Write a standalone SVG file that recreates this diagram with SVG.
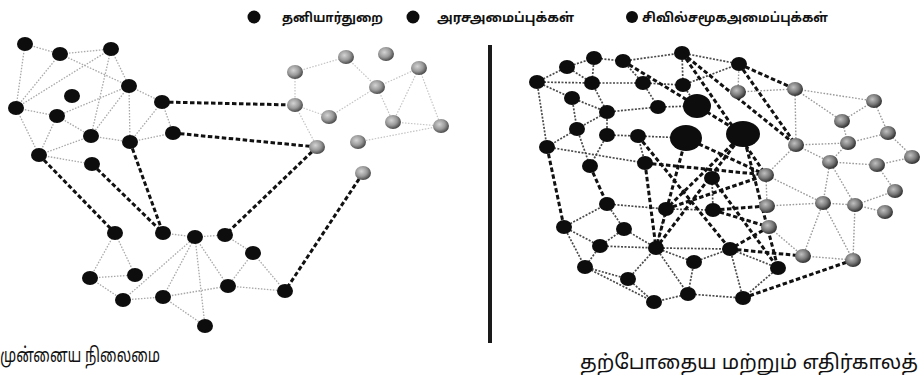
<svg xmlns="http://www.w3.org/2000/svg" width="921" height="375" viewBox="0 0 921 375">
<style>
.bk{fill:#0d0d0d}
.gy{fill:url(#ggy)}
.gl{fill:url(#ggl)}
.th{stroke:#a8a8a8;stroke-width:1.3;stroke-dasharray:1.5 1.5;fill:none}
.tg{stroke:#c4c4c4;stroke-width:1.2;stroke-dasharray:1.5 1.5;fill:none}
.td{stroke:#4a4a4a;stroke-width:1.7;stroke-dasharray:2 1.5;fill:none}
.tr{stroke:#9a9a9a;stroke-width:1.4;stroke-dasharray:1.6 1.6;fill:none}
.dk{stroke:#111;stroke-width:3;stroke-dasharray:4.5 2.5;fill:none}
.lg{font-family:"Noto Sans Tamil","Lohit Tamil","Noto Sans",sans-serif;font-size:13px;font-weight:bold;fill:#111}
.cap{font-family:"Noto Sans Tamil","Lohit Tamil","Noto Sans",sans-serif;fill:#111}
</style>
<defs>
<radialGradient id="ggy" cx="40%" cy="38%" r="65%">
<stop offset="0" stop-color="#c0c0c0"/><stop offset="0.55" stop-color="#7a7a7a"/><stop offset="1" stop-color="#2a2a2a"/>
</radialGradient>
<radialGradient id="ggl" cx="40%" cy="38%" r="65%">
<stop offset="0" stop-color="#d4d4d4"/><stop offset="0.55" stop-color="#999"/><stop offset="1" stop-color="#444"/>
</radialGradient>
</defs>
<rect width="921" height="375" fill="#fff"/>

<g id="legend">
<circle cx="254" cy="17" r="6.5" class="bk"/>
<text x="282" y="22" class="lg" textLength="101" lengthAdjust="spacingAndGlyphs">தனியார்துறை</text>
<circle cx="413" cy="17" r="6.5" class="bk"/>
<text x="437" y="22" class="lg" textLength="137" lengthAdjust="spacingAndGlyphs">அரசஅமைப்புக்கள்</text>
<circle cx="632" cy="17" r="6" class="bk"/>
<text x="642" y="22" class="lg" textLength="186" lengthAdjust="spacingAndGlyphs">சிவில்சமூகஅமைப்புக்கள்</text>
</g>

<g id="divider"><rect x="488" y="45" width="4" height="298" fill="#1a1a1a"/></g>

<g id="connectors">
<!-- left cluster thin -->
<line class="th" x1="25" y1="44" x2="60" y2="54"/>
<line class="th" x1="25" y1="44" x2="16" y2="108"/>
<line class="th" x1="60" y1="54" x2="111" y2="49"/>
<line class="th" x1="60" y1="54" x2="16" y2="108"/>
<line class="th" x1="60" y1="54" x2="129" y2="86"/>
<line class="th" x1="111" y1="49" x2="129" y2="86"/>
<line class="th" x1="111" y1="49" x2="16" y2="108"/>
<line class="th" x1="111" y1="49" x2="91" y2="136"/>
<line class="th" x1="129" y1="86" x2="130" y2="142"/>
<line class="th" x1="129" y1="86" x2="162" y2="102"/>
<line class="th" x1="129" y1="86" x2="57" y2="116"/>
<line class="th" x1="129" y1="86" x2="91" y2="136"/>
<line class="th" x1="162" y1="102" x2="130" y2="142"/>
<line class="th" x1="162" y1="102" x2="173" y2="133"/>
<line class="th" x1="130" y1="142" x2="173" y2="133"/>
<line class="th" x1="91" y1="136" x2="130" y2="142"/>
<line class="th" x1="57" y1="116" x2="91" y2="136"/>
<line class="th" x1="16" y1="108" x2="57" y2="116"/>
<line class="th" x1="16" y1="108" x2="39" y2="155"/>
<line class="th" x1="57" y1="116" x2="39" y2="155"/>
<line class="th" x1="39" y1="155" x2="91" y2="136"/>
<line class="th" x1="39" y1="155" x2="92" y2="164"/>
<!-- bottom cluster thin -->
<line class="th" x1="115" y1="233" x2="90" y2="278"/>
<line class="th" x1="115" y1="233" x2="135" y2="275"/>
<line class="th" x1="90" y1="278" x2="135" y2="275"/>
<line class="th" x1="90" y1="278" x2="123" y2="300"/>
<line class="th" x1="123" y1="300" x2="163" y2="297"/>
<line class="th" x1="123" y1="300" x2="195" y2="237"/>
<line class="th" x1="163" y1="297" x2="195" y2="237"/>
<line class="th" x1="163" y1="297" x2="205" y2="326"/>
<line class="th" x1="195" y1="237" x2="205" y2="326"/>
<line class="th" x1="163" y1="297" x2="228" y2="286"/>
<line class="th" x1="195" y1="237" x2="225" y2="235"/>
<line class="th" x1="225" y1="235" x2="253" y2="253"/>
<line class="th" x1="253" y1="253" x2="228" y2="286"/>
<line class="th" x1="253" y1="253" x2="285" y2="291"/>
<line class="th" x1="228" y1="286" x2="285" y2="291"/>
<line class="th" x1="163" y1="233" x2="195" y2="237"/>
<line class="th" x1="195" y1="237" x2="228" y2="286"/>
<!-- left gray cluster thin -->
<line class="tg" x1="295" y1="72" x2="346" y2="57"/>
<line class="tg" x1="295" y1="72" x2="295" y2="105"/>
<line class="tg" x1="346" y1="57" x2="377" y2="87"/>
<line class="tg" x1="377" y1="87" x2="419" y2="68"/>
<line class="tg" x1="377" y1="87" x2="393" y2="122"/>
<line class="tg" x1="419" y1="68" x2="441" y2="126"/>
<line class="tg" x1="419" y1="68" x2="393" y2="122"/>
<line class="tg" x1="393" y1="122" x2="441" y2="126"/>
<line class="tg" x1="329" y1="117" x2="377" y2="87"/>
<line class="tg" x1="295" y1="105" x2="329" y2="117"/>
<line class="tg" x1="295" y1="105" x2="317" y2="147"/>
<line class="tg" x1="441" y1="126" x2="358" y2="142"/>
<!-- left thick dashed -->
<line class="dk" x1="162" y1="102" x2="295" y2="105"/>
<line class="dk" x1="173" y1="133" x2="317" y2="147"/>
<line class="dk" x1="39" y1="155" x2="115" y2="233"/>
<line class="dk" x1="92" y1="164" x2="163" y2="233"/>
<line class="dk" x1="130" y1="142" x2="163" y2="233"/>
<line class="dk" x1="317" y1="147" x2="225" y2="235"/>
<line class="dk" x1="363" y1="173" x2="285" y2="291"/>

<!-- right black thin -->
<line class="td" x1="537" y1="82" x2="567" y2="67"/>
<line class="td" x1="567" y1="67" x2="594" y2="58"/>
<line class="td" x1="594" y1="58" x2="623" y2="61"/>
<line class="td" x1="623" y1="61" x2="682" y2="53"/>
<line class="td" x1="537" y1="82" x2="592" y2="83"/>
<line class="td" x1="592" y1="83" x2="643" y2="83"/>
<line class="td" x1="643" y1="83" x2="683" y2="85"/>
<line class="td" x1="537" y1="82" x2="572" y2="98"/>
<line class="td" x1="537" y1="82" x2="547" y2="147"/>
<line class="td" x1="567" y1="67" x2="592" y2="83"/>
<line class="td" x1="594" y1="58" x2="592" y2="83"/>
<line class="td" x1="623" y1="61" x2="643" y2="83"/>
<line class="td" x1="592" y1="83" x2="607" y2="112"/>
<line class="td" x1="572" y1="98" x2="607" y2="112"/>
<line class="td" x1="607" y1="112" x2="658" y2="107"/>
<line class="td" x1="658" y1="107" x2="697" y2="106"/>
<line class="td" x1="607" y1="112" x2="577" y2="129"/>
<line class="td" x1="607" y1="112" x2="607" y2="135"/>
<line class="td" x1="572" y1="98" x2="577" y2="129"/>
<line class="td" x1="577" y1="129" x2="547" y2="147"/>
<line class="td" x1="577" y1="129" x2="590" y2="166"/>
<line class="td" x1="607" y1="135" x2="638" y2="136"/>
<line class="td" x1="638" y1="136" x2="686" y2="138"/>
<line class="td" x1="547" y1="147" x2="645" y2="163"/>
<line class="td" x1="607" y1="135" x2="590" y2="166"/>
<line class="td" x1="645" y1="163" x2="638" y2="136"/>
<line class="td" x1="643" y1="83" x2="658" y2="107"/>
<line class="td" x1="683" y1="85" x2="697" y2="106"/>
<line class="td" x1="682" y1="53" x2="683" y2="85"/>
<line class="td" x1="683" y1="85" x2="739" y2="64"/>
<line class="td" x1="682" y1="53" x2="739" y2="64"/>
<line class="td" x1="564" y1="227" x2="607" y2="204"/>
<line class="td" x1="564" y1="227" x2="600" y2="246"/>
<line class="td" x1="564" y1="227" x2="585" y2="267"/>
<line class="td" x1="607" y1="204" x2="624" y2="229"/>
<line class="td" x1="607" y1="204" x2="666" y2="209"/>
<line class="td" x1="624" y1="229" x2="656" y2="248"/>
<line class="td" x1="624" y1="229" x2="600" y2="246"/>
<line class="td" x1="600" y1="246" x2="656" y2="248"/>
<line class="td" x1="600" y1="246" x2="585" y2="267"/>
<line class="td" x1="585" y1="267" x2="628" y2="279"/>
<line class="td" x1="628" y1="279" x2="656" y2="248"/>
<line class="td" x1="628" y1="279" x2="654" y2="302"/>
<line class="td" x1="656" y1="248" x2="694" y2="262"/>
<line class="td" x1="656" y1="248" x2="688" y2="294"/>
<line class="td" x1="656" y1="248" x2="666" y2="209"/>
<line class="td" x1="694" y1="262" x2="688" y2="294"/>
<line class="td" x1="688" y1="294" x2="654" y2="302"/>
<line class="td" x1="688" y1="294" x2="743" y2="298"/>
<line class="td" x1="694" y1="262" x2="730" y2="249"/>
<line class="td" x1="666" y1="209" x2="713" y2="210"/>
<line class="td" x1="713" y1="210" x2="712" y2="178"/>
<line class="td" x1="730" y1="249" x2="778" y2="268"/>
<line class="td" x1="778" y1="268" x2="743" y2="298"/>
<line class="td" x1="730" y1="249" x2="743" y2="298"/>
<line class="td" x1="585" y1="267" x2="654" y2="302"/>
<line class="td" x1="656" y1="248" x2="730" y2="249"/>
<!-- right gray thin -->
<line class="tr" x1="738" y1="92" x2="795" y2="89"/>
<line class="tr" x1="795" y1="89" x2="874" y2="101"/>
<line class="tr" x1="795" y1="89" x2="796" y2="145"/>
<line class="tr" x1="795" y1="89" x2="842" y2="121"/>
<line class="tr" x1="796" y1="145" x2="848" y2="143"/>
<line class="tr" x1="842" y1="121" x2="848" y2="143"/>
<line class="tr" x1="874" y1="101" x2="888" y2="133"/>
<line class="tr" x1="874" y1="101" x2="842" y2="121"/>
<line class="tr" x1="888" y1="133" x2="913" y2="157"/>
<line class="tr" x1="848" y1="143" x2="888" y2="133"/>
<line class="tr" x1="796" y1="145" x2="766" y2="175"/>
<line class="tr" x1="848" y1="143" x2="830" y2="162"/>
<line class="tr" x1="830" y1="162" x2="877" y2="165"/>
<line class="tr" x1="877" y1="165" x2="895" y2="191"/>
<line class="tr" x1="830" y1="162" x2="823" y2="203"/>
<line class="tr" x1="823" y1="203" x2="855" y2="205"/>
<line class="tr" x1="855" y1="205" x2="895" y2="191"/>
<line class="tr" x1="855" y1="205" x2="885" y2="212"/>
<line class="tr" x1="823" y1="203" x2="853" y2="260"/>
<line class="tr" x1="853" y1="260" x2="855" y2="205"/>
<line class="tr" x1="803" y1="256" x2="853" y2="260"/>
<line class="tr" x1="767" y1="206" x2="823" y2="203"/>
<line class="tr" x1="766" y1="175" x2="767" y2="206"/>
<line class="tr" x1="769" y1="227" x2="803" y2="256"/>
<line class="tr" x1="830" y1="162" x2="855" y2="205"/>
<line class="tr" x1="796" y1="145" x2="830" y2="162"/>
<line class="tr" x1="738" y1="92" x2="739" y2="64"/>
<line class="tr" x1="766" y1="175" x2="823" y2="203"/>
<line class="tr" x1="803" y1="256" x2="823" y2="203"/>
<line class="tr" x1="877" y1="165" x2="913" y2="157"/>
<!-- right thick dashed -->
<line class="dk" x1="739" y1="64" x2="795" y2="89"/>
<line class="dk" x1="739" y1="64" x2="796" y2="145"/>
<line class="dk" x1="682" y1="53" x2="796" y2="145"/>
<line class="dk" x1="682" y1="53" x2="766" y2="175"/>
<line class="dk" x1="623" y1="61" x2="743" y2="134"/>
<line class="dk" x1="547" y1="147" x2="564" y2="227"/>
<line class="dk" x1="590" y1="166" x2="607" y2="204"/>
<line class="dk" x1="645" y1="163" x2="656" y2="248"/>
<line class="dk" x1="686" y1="138" x2="656" y2="248"/>
<line class="dk" x1="743" y1="134" x2="656" y2="248"/>
<line class="dk" x1="743" y1="134" x2="666" y2="209"/>
<line class="dk" x1="713" y1="210" x2="767" y2="206"/>
<line class="dk" x1="713" y1="210" x2="769" y2="227"/>
<line class="dk" x1="730" y1="249" x2="803" y2="256"/>
<line class="dk" x1="743" y1="298" x2="853" y2="260"/>
<line class="dk" x1="743" y1="134" x2="778" y2="268"/>
<line class="dk" x1="712" y1="178" x2="778" y2="268"/>
<line class="dk" x1="645" y1="163" x2="766" y2="175"/>
<line class="dk" x1="666" y1="209" x2="766" y2="175"/>
<line class="dk" x1="769" y1="227" x2="730" y2="249"/>
<line class="dk" x1="638" y1="136" x2="730" y2="249"/>
<line class="dk" x1="686" y1="138" x2="766" y2="175"/>
</g>

<g id="nodes-left">
<g id="L-A"><ellipse cx="25" cy="44" rx="8" ry="7" class="bk"/></g>
<g id="L-B"><ellipse cx="60" cy="54" rx="8" ry="7" class="bk"/></g>
<g id="L-C"><ellipse cx="111" cy="49" rx="8" ry="7" class="bk"/></g>
<g id="L-D"><ellipse cx="129" cy="86" rx="8" ry="7" class="bk"/></g>
<g id="L-E"><ellipse cx="72" cy="96" rx="8" ry="7" class="bk"/></g>
<g id="L-F"><ellipse cx="16" cy="108" rx="8" ry="7" class="bk"/></g>
<g id="L-G"><ellipse cx="57" cy="116" rx="8" ry="7" class="bk"/></g>
<g id="L-H"><ellipse cx="91" cy="136" rx="8" ry="7" class="bk"/></g>
<g id="L-I"><ellipse cx="130" cy="142" rx="8" ry="7" class="bk"/></g>
<g id="L-J"><ellipse cx="162" cy="102" rx="8" ry="7" class="bk"/></g>
<g id="L-K"><ellipse cx="173" cy="133" rx="8" ry="7" class="bk"/></g>
<g id="L-L"><ellipse cx="39" cy="155" rx="8" ry="7" class="bk"/></g>
<g id="L-M"><ellipse cx="92" cy="164" rx="8" ry="7" class="bk"/></g>
<g id="B-1"><ellipse cx="115" cy="233" rx="8" ry="7" class="bk"/></g>
<g id="B-2"><ellipse cx="163" cy="233" rx="8" ry="7" class="bk"/></g>
<g id="B-3"><ellipse cx="195" cy="237" rx="8" ry="7" class="bk"/></g>
<g id="B-4"><ellipse cx="225" cy="235" rx="8" ry="7" class="bk"/></g>
<g id="B-5"><ellipse cx="253" cy="253" rx="8" ry="7" class="bk"/></g>
<g id="B-6"><ellipse cx="90" cy="278" rx="8" ry="7" class="bk"/></g>
<g id="B-7"><ellipse cx="135" cy="275" rx="8" ry="7" class="bk"/></g>
<g id="B-8"><ellipse cx="228" cy="286" rx="8" ry="7" class="bk"/></g>
<g id="B-9"><ellipse cx="285" cy="291" rx="8" ry="7" class="bk"/></g>
<g id="B-10"><ellipse cx="123" cy="300" rx="8" ry="7" class="bk"/></g>
<g id="B-11"><ellipse cx="163" cy="297" rx="8" ry="7" class="bk"/></g>
<g id="B-12"><ellipse cx="205" cy="326" rx="8" ry="7" class="bk"/></g>
<g id="G-1"><ellipse cx="295" cy="72" rx="8" ry="7" class="gl"/></g>
<g id="G-2"><ellipse cx="346" cy="57" rx="8" ry="7" class="gl"/></g>
<g id="G-3"><ellipse cx="386" cy="54" rx="8" ry="7" class="gl"/></g>
<g id="G-4"><ellipse cx="419" cy="68" rx="8" ry="7" class="gl"/></g>
<g id="G-5"><ellipse cx="377" cy="87" rx="8" ry="7" class="gl"/></g>
<g id="G-6"><ellipse cx="295" cy="105" rx="8" ry="7" class="gl"/></g>
<g id="G-7"><ellipse cx="329" cy="117" rx="8" ry="7" class="gl"/></g>
<g id="G-8"><ellipse cx="393" cy="122" rx="8" ry="7" class="gl"/></g>
<g id="G-9"><ellipse cx="441" cy="126" rx="8" ry="7" class="gl"/></g>
<g id="G-10"><ellipse cx="317" cy="147" rx="8" ry="7" class="gl"/></g>
<g id="G-11"><ellipse cx="358" cy="142" rx="8" ry="7" class="gl"/></g>
<g id="G-12"><ellipse cx="363" cy="173" rx="8" ry="7" class="gl"/></g>
</g>

<g id="nodes-right">
<g id="R-1"><ellipse cx="567" cy="67" rx="8" ry="7" class="bk"/></g>
<g id="R-2"><ellipse cx="594" cy="58" rx="8" ry="7" class="bk"/></g>
<g id="R-3"><ellipse cx="623" cy="61" rx="8" ry="7" class="bk"/></g>
<g id="R-4"><ellipse cx="682" cy="53" rx="8" ry="7" class="bk"/></g>
<g id="R-5"><ellipse cx="537" cy="82" rx="8" ry="7" class="bk"/></g>
<g id="R-6"><ellipse cx="592" cy="83" rx="8" ry="7" class="bk"/></g>
<g id="R-7"><ellipse cx="643" cy="83" rx="8" ry="7" class="bk"/></g>
<g id="R-8"><ellipse cx="683" cy="85" rx="8" ry="7" class="bk"/></g>
<g id="R-9"><ellipse cx="572" cy="98" rx="8" ry="7" class="bk"/></g>
<g id="R-10"><ellipse cx="607" cy="112" rx="8" ry="7" class="bk"/></g>
<g id="R-11"><ellipse cx="658" cy="107" rx="8" ry="7" class="bk"/></g>
<g id="R-13"><ellipse cx="577" cy="129" rx="8" ry="7" class="bk"/></g>
<g id="R-14"><ellipse cx="607" cy="135" rx="8" ry="7" class="bk"/></g>
<g id="R-15"><ellipse cx="638" cy="136" rx="8" ry="7" class="bk"/></g>
<g id="R-17"><ellipse cx="547" cy="147" rx="8" ry="7" class="bk"/></g>
<g id="R-18"><ellipse cx="590" cy="166" rx="8" ry="7" class="bk"/></g>
<g id="R-19"><ellipse cx="645" cy="163" rx="8" ry="7" class="bk"/></g>
<g id="R-20"><ellipse cx="607" cy="204" rx="8" ry="7" class="bk"/></g>
<g id="R-21"><ellipse cx="666" cy="209" rx="8" ry="7" class="bk"/></g>
<g id="R-S1"><ellipse cx="739" cy="64" rx="8" ry="7" class="bk"/></g>
<g id="R-S15"><ellipse cx="712" cy="178" rx="8" ry="7" class="bk"/></g>
<g id="R-T3"><ellipse cx="564" cy="227" rx="8" ry="7" class="bk"/></g>
<g id="R-T4"><ellipse cx="624" cy="229" rx="8" ry="7" class="bk"/></g>
<g id="R-T5"><ellipse cx="600" cy="246" rx="8" ry="7" class="bk"/></g>
<g id="R-T6"><ellipse cx="656" cy="248" rx="8" ry="7" class="bk"/></g>
<g id="R-T7"><ellipse cx="694" cy="262" rx="8" ry="7" class="bk"/></g>
<g id="R-T8"><ellipse cx="585" cy="267" rx="8" ry="7" class="bk"/></g>
<g id="R-T9"><ellipse cx="628" cy="279" rx="8" ry="7" class="bk"/></g>
<g id="R-T10"><ellipse cx="688" cy="294" rx="8" ry="7" class="bk"/></g>
<g id="R-T11"><ellipse cx="654" cy="302" rx="8" ry="7" class="bk"/></g>
<g id="R-N1"><ellipse cx="713" cy="210" rx="8" ry="7" class="bk"/></g>
<g id="R-N2"><ellipse cx="730" cy="249" rx="8" ry="7" class="bk"/></g>
<g id="R-N3"><ellipse cx="778" cy="268" rx="8" ry="7" class="bk"/></g>
<g id="R-N4"><ellipse cx="743" cy="298" rx="8" ry="7" class="bk"/></g>
<g id="R-BG1"><ellipse cx="697" cy="106" rx="14" ry="12" class="bk"/></g>
<g id="R-BG2"><ellipse cx="686" cy="138" rx="16" ry="13" class="bk"/></g>
<g id="R-BG3"><ellipse cx="743" cy="134" rx="17" ry="13" class="bk"/></g>
<g id="Q-2"><ellipse cx="738" cy="92" rx="8" ry="7" class="gy"/></g>
<g id="Q-3"><ellipse cx="795" cy="89" rx="8" ry="7" class="gy"/></g>
<g id="Q-4"><ellipse cx="874" cy="101" rx="8" ry="7" class="gy"/></g>
<g id="Q-7"><ellipse cx="842" cy="121" rx="8" ry="7" class="gy"/></g>
<g id="Q-8"><ellipse cx="796" cy="145" rx="8" ry="7" class="gy"/></g>
<g id="Q-9"><ellipse cx="848" cy="143" rx="8" ry="7" class="gy"/></g>
<g id="Q-10"><ellipse cx="888" cy="133" rx="8" ry="7" class="gy"/></g>
<g id="Q-11"><ellipse cx="912" cy="157" rx="8" ry="7" class="gy"/></g>
<g id="Q-12"><ellipse cx="830" cy="162" rx="8" ry="7" class="gy"/></g>
<g id="Q-13"><ellipse cx="877" cy="165" rx="8" ry="7" class="gy"/></g>
<g id="Q-14"><ellipse cx="766" cy="175" rx="8" ry="7" class="gy"/></g>
<g id="Q-16"><ellipse cx="895" cy="191" rx="8" ry="7" class="gy"/></g>
<g id="Q-17"><ellipse cx="823" cy="203" rx="8" ry="7" class="gy"/></g>
<g id="Q-18"><ellipse cx="855" cy="205" rx="8" ry="7" class="gy"/></g>
<g id="Q-19"><ellipse cx="767" cy="206" rx="8" ry="7" class="gy"/></g>
<g id="Q-P1"><ellipse cx="885" cy="212" rx="8" ry="7" class="gy"/></g>
<g id="Q-P2"><ellipse cx="769" cy="227" rx="8" ry="7" class="gy"/></g>
<g id="Q-P3"><ellipse cx="803" cy="256" rx="8" ry="7" class="gy"/></g>
<g id="Q-P4"><ellipse cx="853" cy="260" rx="8" ry="7" class="gy"/></g>
</g>

<g id="captions">
<text x="0" y="362" class="cap" font-size="20" textLength="160" lengthAdjust="spacingAndGlyphs">முன்னைய நிலைமை</text>
<text x="580" y="369" class="cap" font-size="20" textLength="338" lengthAdjust="spacingAndGlyphs">தற்போதைய மற்றும் எதிர்காலத்</text>
</g>
</svg>
